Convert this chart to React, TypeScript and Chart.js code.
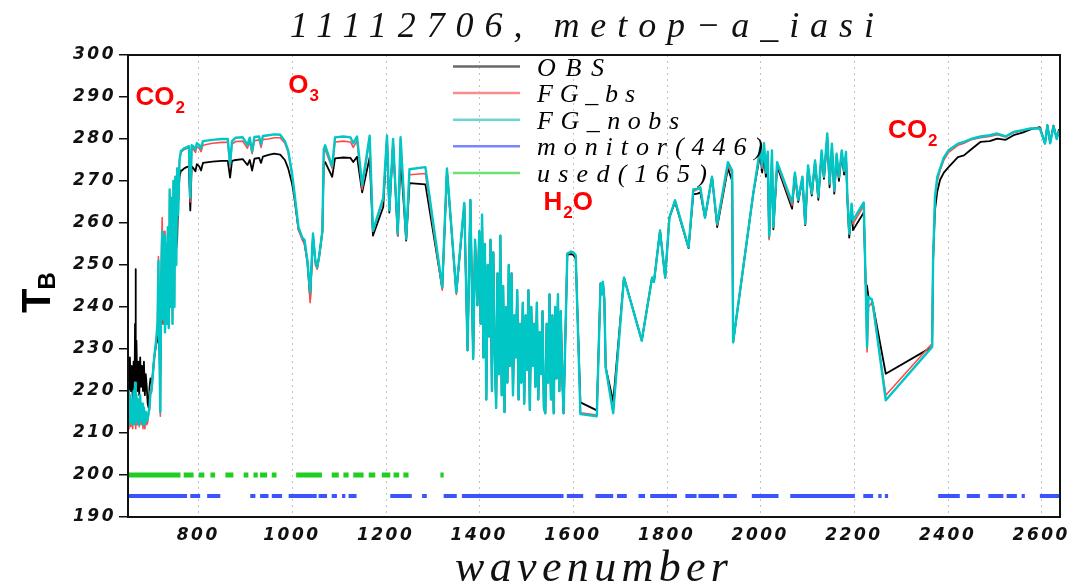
import React, { useEffect, useRef } from "react";
import { Chart, registerables } from "chart.js";

Chart.register(...registerables);

// ---------------- data ----------------
const wavenumber = [
  650, 652, 654, 656, 658, 660, 662, 664, 665, 666, 667, 668, 670, 672, 674, 676, 678, 680, 682, 684, 686, 688, 690, 692, 694, 696, 698, 700,
  702, 706, 710, 713, 715, 717, 719, 721, 723, 725, 727, 729, 731, 733, 735, 737, 739, 741, 743, 745, 747, 749, 751, 753, 755, 757, 760, 763,
  765, 770, 775, 780, 783, 786, 790, 794, 797, 802, 806, 810, 830, 850, 863, 868, 872, 880, 895, 905, 910, 915, 920, 930,
  934, 938, 950, 962, 975, 985, 992, 1000, 1004, 1014, 1022, 1027, 1033, 1039, 1045, 1050, 1054, 1058, 1065, 1068, 1071,
  1086, 1092, 1110, 1125, 1131, 1139, 1150, 1166, 1173, 1195, 1203, 1208, 1216, 1221, 1226, 1232,
  1244, 1251, 1285, 1321, 1331, 1351, 1368, 1375, 1381, 1387, 1391, 1396,
  1400, 1403, 1406, 1409, 1412, 1415, 1418, 1421, 1424, 1427, 1430, 1433, 1436, 1439, 1442, 1445, 1448, 1451, 1454, 1457,
  1460, 1463, 1466, 1469, 1472, 1475, 1478, 1481, 1484, 1487, 1490, 1493, 1496, 1499, 1502, 1505, 1508, 1511, 1514, 1517,
  1520, 1523, 1526, 1529, 1532, 1535, 1538, 1541, 1544, 1547, 1550, 1553, 1556, 1559, 1562, 1565, 1568, 1571, 1574, 1577, 1580,
  1588, 1596, 1601, 1606, 1616, 1651, 1659, 1662, 1664, 1667, 1670, 1686, 1709, 1747, 1769, 1773,
  1786, 1797, 1806, 1818, 1847, 1857, 1866, 1872, 1882, 1897, 1908, 1931, 1940, 1942, 1985, 2000,
  2004, 2008, 2012, 2016, 2019, 2025, 2028, 2036, 2068, 2074, 2081, 2090, 2096, 2102, 2110, 2117,
  2124, 2131, 2136, 2143, 2148, 2153, 2158, 2163, 2168, 2174, 2179, 2183, 2186, 2190, 2195, 2198,
  2221, 2225, 2228, 2231, 2238, 2241,
  2268, 2367, 2369, 2373, 2378, 2384, 2392, 2402, 2422, 2435, 2450, 2470, 2490, 2506, 2524, 2541, 2560, 2577, 2597, 2608, 2613, 2619, 2626, 2633, 2638,
];

const obsTb = [
  225, 219, 228, 220, 226, 218, 227, 221, 236, 249, 222, 232, 220, 227, 219, 228, 221, 226, 220, 227, 219, 224, 221, 217, 216, 221, 223, 222,
  223, 228, 231, 233, 232, 230, 224, 238, 241, 236, 240, 236, 242, 238, 240, 244, 247, 246, 249, 248, 251, 250, 253, 254, 256, 265, 271, 272.5,
  272.5, 273, 273.3, 273.5, 263, 273.5, 273, 272.3, 274, 273.5, 272.5, 274.3, 274.6, 274.8, 274.8, 270.8, 274.8, 275, 275.2, 273.8, 275, 272.5, 275.3, 275.5,
  274.3, 275.8, 276.2, 276.5, 276.3, 275, 273, 269.5, 267, 258.5, 256.5, 255, 251, 242, 257, 251, 249.5, 252, 258, 274, 274.5,
  271, 275.4, 275.6, 275.5, 274.5, 275.8, 267.3, 275.6, 257, 263.8, 280, 262.5, 279, 268, 257, 275.8,
  255.8, 269.5, 269.2, 244.5, 272.5, 243.5, 264.3, 229.7, 265.5, 227.7, 256, 240.4,
  258, 236, 262, 228, 255, 218, 250, 233, 256, 220, 253, 230, 216, 248, 224, 257, 219, 245, 215, 240,
  222, 250, 226, 248, 219, 238, 228, 244, 218, 236, 222, 241, 217, 238, 225, 244, 215.5, 240, 226, 236,
  221, 241, 218, 234, 224, 239, 216, 214.7, 236, 222, 243, 218, 238, 214.7, 240, 223, 243, 220, 239, 224, 214.7,
  252.5, 252.6, 252.4, 251.5, 217.3, 215.4, 245.6, 243, 246, 242, 225.6, 217.5, 247, 232, 247, 246,
  258.2, 247, 261.3, 265, 254, 266.8, 267, 267.3, 261.3, 271, 259, 273, 270, 231.6, 267, 276.5,
  272, 276, 271, 273.5, 256.5, 275, 258.5, 273.5, 263.4, 271.5, 265, 270.5, 259.5, 273, 266.5, 274.5,
  265.5, 276.5, 270.5, 280.5, 268.5, 278, 267, 275.5, 270, 276.5, 271.5, 276, 265.5, 256.5, 263.5, 258.3,
  262.5, 245.6, 245, 242.4, 241.8, 240.3,
  224.1, 230.5, 251, 263, 267.5, 270.3, 272, 273.3, 275.7, 276.1, 277.5, 279.3, 279.5, 280.1, 279.8, 280.9, 281.5, 282.3, 282.8, 279, 283.3, 279.2, 283.2, 280.2, 282.3,
];

const fgBsTb = [
  219, 211, 218, 211.5, 217, 211, 219, 212, 221, 215, 211, 218, 212, 217, 211.5, 218, 212, 216, 211, 215, 211, 214, 212, 212.5, 214.5, 215.5, 219.5, 219.5,
  222, 227.5, 231.5, 235.5, 252, 230, 214, 250, 261.3, 236, 258, 234, 255, 236, 259, 235, 267, 240, 266, 236, 270, 240, 271, 250, 273, 262, 275, 276.7,
  277, 277.5, 277.7, 278, 265, 278, 277.5, 276.8, 278.2, 277.8, 277, 278.5, 279, 279.2, 279.2, 273.5, 278.8, 279.4, 279.5, 277.8, 279.4, 276.5, 279.6, 279.8,
  278, 279.9, 280, 280.3, 280.3, 279, 276.8, 271.5, 268, 258.3, 256, 255, 250.5, 241, 257, 250, 249, 251.5, 257.5, 276.5, 277.5,
  273, 279.3, 279.5, 279.3, 278, 279.6, 268, 280.2, 258, 265.5, 280.5, 263, 279.5, 268.5, 257, 280,
  256, 271.5, 271.8, 244, 272.5, 243, 264.5, 229.7, 265.5, 227.7, 256, 240.4,
  258, 236, 262, 228, 255, 218, 250, 233, 256, 220, 253, 230, 216, 248, 224, 257, 219, 245, 215, 240,
  222, 250, 226, 248, 219, 238, 228, 244, 218, 236, 222, 241, 217, 238, 225, 244, 215.5, 240, 226, 236,
  221, 241, 218, 234, 224, 239, 216, 214.7, 236, 222, 243, 218, 238, 214.7, 240, 223, 243, 220, 239, 224, 214.7,
  252.7, 253.2, 253, 252, 214.8, 214.3, 245.6, 243, 246, 242, 225.6, 215, 247, 232, 247, 246,
  258.2, 247, 261.3, 265.4, 254.2, 267.5, 268, 268.3, 261.3, 271, 259.5, 273.5, 272, 231.6, 267, 277.5,
  273, 278.5, 272, 276.5, 256, 277, 259, 274, 264.2, 272, 265.5, 271, 259.8, 273.5, 267, 274.9,
  266, 277, 271, 281, 269.2, 278.5, 267.5, 276.2, 270.8, 277, 272.2, 276.6, 266, 257.3, 264.3, 259.8,
  264.1, 245.6, 229.3, 240, 241, 239.5,
  219, 231.3, 251, 265.5, 270, 272.5, 275, 276.8, 278.5, 279, 279.8, 280.3, 280.6, 281, 280.5, 281.5, 282, 282.5, 282.6, 278.9, 283.2, 279, 283, 280, 282,
];

const fgNobsTb = [
  220, 212, 219, 212.5, 218, 212, 220, 213, 222, 216, 212, 219, 213, 218, 212, 219, 213, 217, 212, 216, 212, 215, 213, 213.5, 215, 216, 220, 220,
  222.5, 228, 232, 236, 251, 230, 215, 248, 258, 237, 257, 234, 255, 236, 259, 235, 268, 240, 266, 236, 270, 240, 271, 250, 273, 262, 275, 277.2,
  277.3, 277.8, 278, 278.3, 266, 278.5, 278.2, 277.5, 279, 278.6, 277.8, 279.5, 279.8, 280, 280, 274, 279.5, 280.3, 280.4, 278.6, 280.3, 277, 280.5, 280.6,
  278.8, 280.7, 280.9, 281.1, 281, 279.5, 277.3, 272, 268.5, 259, 256.5, 256, 251, 243.5, 257.5, 251, 249.5, 252, 258, 277.5, 278.5,
  273.5, 280.4, 280.6, 280.4, 279, 280.6, 269, 280.8, 258.2, 266, 280.8, 263, 280, 268.5, 257.5, 280.4,
  256.3, 272.8, 273.3, 244.7, 273, 243.5, 264.8, 229.7, 265.5, 227.7, 256, 240.4,
  258, 236, 262, 228, 255, 218, 250, 233, 256, 220, 253, 230, 216, 248, 224, 257, 219, 245, 215, 240,
  222, 250, 226, 248, 219, 238, 228, 244, 218, 236, 222, 241, 217, 238, 225, 244, 215.5, 240, 226, 236,
  221, 241, 218, 234, 224, 239, 216, 214.7, 236, 222, 243, 218, 238, 214.7, 240, 223, 243, 220, 239, 224, 214.7,
  252.7, 253.2, 253, 252.3, 214.5, 214, 245.6, 243, 246, 242, 225.6, 214.7, 247, 232, 247, 246,
  258.2, 247, 261.3, 265.4, 254.2, 268, 268.2, 268.5, 261.3, 271, 259.8, 274.5, 272.5, 231.6, 267, 278,
  273.5, 279, 272, 277, 256.8, 277.3, 259, 274.5, 264.9, 272, 265.5, 271, 259.8, 273.7, 267, 274.9,
  266.2, 277.3, 271, 281.3, 269.4, 278.9, 267.8, 276.5, 271, 277.3, 272.5, 276.9, 266.2, 257.5, 264.6, 260.6,
  264.9, 245.6, 230.5, 242.4, 241.8, 240.3,
  217.8, 230.5, 251, 266.2, 271, 273, 275.6, 277.3, 278.9, 279.3, 280, 280.6, 280.9, 281.3, 280.6, 281.7, 282.1, 282.5, 282.5, 278.9, 283.2, 279, 283, 280, 282,
];

// channel flags: wavenumber ranges [from, to]
const usedRanges = [
  [650, 762], [769, 790], [801, 813], [826, 836], [858, 875], [897, 907], [918, 927], [932, 947], [957, 967],
  [1009, 1064], [1085, 1100], [1110, 1121], [1131, 1153], [1164, 1178], [1192, 1210], [1217, 1229], [1238, 1249], [1317, 1324],
];
const monitorRanges = [
  [650, 776], [783, 804], [819, 847], [911, 922], [932, 950], [957, 979], [993, 1053], [1057, 1075], [1085, 1096],
  [1107, 1114], [1121, 1138], [1210, 1256], [1278, 1288], [1324, 1352], [1363, 1580], [1587, 1622], [1648, 1686],
  [1694, 1715], [1740, 1754], [1765, 1822], [1840, 1864], [1868, 1912], [1921, 1950], [1982, 2039], [2064, 2202],
  [2220, 2241], [2252, 2259], [2266, 2273], [2380, 2426], [2441, 2469], [2487, 2519], [2526, 2548], [2558, 2565], [2597, 2640],
];
const usedLevel = 200;
const monitorLevel = 195;

const xTickValues = [800, 1000, 1200, 1400, 1600, 1800, 2000, 2200, 2400, 2600];
const yTickValues = [190, 200, 210, 220, 230, 240, 250, 260, 270, 280, 290, 300];
const seriesNames = ["OBS", "FG_bs", "FG_nobs", "monitor(446)", "used(165)"];
const titleText = "11112706, metop\u2212a_iasi";
const xTitleText = "wavenumber";

const gasLabels = [
  { main: "CO", sub: "2", tail: "", wn: 666, tb: 288 },
  { main: "O", sub: "3", tail: "", wn: 992, tb: 290.9 },
  { main: "H", sub: "2", tail: "O", wn: 1537, tb: 263 },
  { main: "CO", sub: "2", tail: "", wn: 2273, tb: 280.2 },
];

// ---------------- helpers ----------------
const lineColors = ["#000000", "#ff4a4a", "#00c6c6", "#3a55ff", "#1fcf1f"];
const legendColors = ["#6a6a6a", "#ff8a8a", "#6cd6d6", "#7a86ff", "#70e070"];

function rangePoints(ranges: number[][], level: number) {
  const pts: any[] = [];
  for (const [a, b] of ranges) {
    pts.push({ x: a, y: level }, { x: b, y: level }, { x: b, y: null });
  }
  return pts;
}

function drawSpaced(ctx: any, text: string, x: number, y: number, font: string, targetWidth: number, color: string) {
  ctx.save();
  ctx.font = font;
  ctx.letterSpacing = "0px";
  const natural = ctx.measureText(text).width;
  const n = Array.from(text).length;
  const sp = n > 1 ? Math.max(0, (targetWidth - natural) / (n - 1)) : 0;
  ctx.letterSpacing = sp.toFixed(2) + "px";
  ctx.fillStyle = color;
  ctx.textAlign = "left";
  ctx.textBaseline = "alphabetic";
  ctx.fillText(text, x, y);
  ctx.restore();
}

const decorPlugin = {
  id: "decor",
  beforeDraw(chart: any) {
    const ctx = chart.ctx;
    ctx.save();
    ctx.fillStyle = "#ffffff";
    ctx.fillRect(0, 0, chart.width, chart.height);
    ctx.restore();
    ctx.letterSpacing = "2.5px";
  },
  beforeDatasetsDraw(chart: any) {
    const { ctx, chartArea: a, scales } = chart;
    ctx.letterSpacing = "0px";
    ctx.save();
    ctx.strokeStyle = "#c2c2c2";
    ctx.lineWidth = 1;
    ctx.setLineDash([2, 4]);
    for (const v of xTickValues) {
      const px = Math.round(scales.x.getPixelForValue(v)) + 0.5;
      ctx.beginPath();
      ctx.moveTo(px, a.top);
      ctx.lineTo(px, a.bottom);
      ctx.stroke();
    }
    ctx.restore();
  },
  afterDatasetsDraw(chart: any) {
    const { ctx, chartArea: a, scales } = chart;
    ctx.save();
    ctx.letterSpacing = "0px";
    // frame
    ctx.strokeStyle = "#111";
    ctx.lineWidth = 2;
    ctx.strokeRect(a.left, a.top, a.right - a.left, a.bottom - a.top);

    // legend
    const rowTop = a.top + 11.5;
    const rowGap = 26.6;
    const widths = [67, 98, 142, 226, 170];
    seriesNames.forEach((name, i) => {
      const y = rowTop + i * rowGap;
      ctx.strokeStyle = legendColors[i];
      ctx.lineWidth = 2.5;
      ctx.beginPath();
      ctx.moveTo(a.left + 325, y);
      ctx.lineTo(a.left + 392, y);
      ctx.stroke();
      drawSpaced(ctx, name, a.left + 409, y + 9, 'italic 26px "Liberation Serif"', widths[i], "#000");
    });

    // gas annotations
    for (const g of gasLabels) {
      const px = scales.x.getPixelForValue(g.wn);
      const py = scales.y.getPixelForValue(g.tb);
      ctx.fillStyle = "#ff0000";
      ctx.textBaseline = "alphabetic";
      ctx.textAlign = "left";
      ctx.font = 'bold 26px "Liberation Sans"';
      ctx.fillText(g.main, px, py);
      const w1 = ctx.measureText(g.main).width;
      ctx.font = 'bold 17px "Liberation Sans"';
      ctx.fillText(g.sub, px + w1 + 1, py + 8);
      const w2 = ctx.measureText(g.sub).width;
      if (g.tail) {
        ctx.font = 'bold 26px "Liberation Sans"';
        ctx.fillText(g.tail, px + w1 + w2 + 1, py);
      }
    }
    ctx.restore();

    // title and x axis title
    drawSpaced(ctx, titleText, 290, 37, 'italic 36px "Liberation Serif"', 584, "#111");
    drawSpaced(ctx, xTitleText, 455, 581, 'italic 44px "Liberation Serif"', 273, "#111");

    // y axis title T_B (rotated)
    ctx.save();
    ctx.fillStyle = "#000";
    ctx.translate(50, 313);
    ctx.rotate(-Math.PI / 2);
    ctx.font = 'bold 40px "Liberation Sans"';
    ctx.textBaseline = "alphabetic";
    ctx.fillText("T", 0, 0);
    const wt = ctx.measureText("T").width;
    ctx.font = 'bold 24px "Liberation Sans"';
    ctx.fillText("B", wt - 1, 5);
    ctx.restore();
  },
};

export default function App() {
  const canvasRef = useRef<HTMLCanvasElement | null>(null);

  useEffect(() => {
    document.body.style.margin = "0";
    const canvas = canvasRef.current;
    if (!canvas) return;
    const n = Math.min(wavenumber.length, obsTb.length, fgBsTb.length, fgNobsTb.length);
    const mk = (vals: number[]) => wavenumber.slice(0, n).map((x, i) => ({ x, y: vals[i] }));

    const tickFont = { family: '"DejaVu Sans"', style: "italic" as const, weight: "bold" as const, size: 17 };
    const plain = (v: any) => String(v);

    const chart = new Chart(canvas, {
      type: "line",
      data: {
        datasets: [
          { label: seriesNames[0], data: mk(obsTb), borderColor: lineColors[0], borderWidth: 1.8, order: 3 },
          { label: seriesNames[1], data: mk(fgBsTb), borderColor: lineColors[1], borderWidth: 1.6, order: 2 },
          { label: seriesNames[2], data: mk(fgNobsTb), borderColor: lineColors[2], borderWidth: 2.4, order: 1 },
          { label: seriesNames[3], data: rangePoints(monitorRanges, monitorLevel), borderColor: lineColors[3], borderWidth: 4, order: 4, borderCapStyle: "butt" },
          { label: seriesNames[4], data: rangePoints(usedRanges, usedLevel), borderColor: lineColors[4], borderWidth: 5, order: 5, borderCapStyle: "butt" },
        ] as any,
      },
      options: {
        responsive: false,
        animation: false,
        devicePixelRatio: 1,
        spanGaps: false,
        elements: { point: { radius: 0 }, line: { tension: 0, borderJoinStyle: "round" } },
        layout: { padding: { left: 0, right: 19, top: 55, bottom: 0 } },
        plugins: { legend: { display: false }, tooltip: { enabled: false }, title: { display: false } },
        scales: {
          x: {
            type: "linear",
            min: 650,
            max: 2640,
            afterBuildTicks: (s: any) => { s.ticks = xTickValues.map((v) => ({ value: v })); },
            afterFit: (s: any) => { s.height = 69; },
            grid: { display: false, drawTicks: false },
            border: { display: false },
            ticks: { font: tickFont, color: "#111", padding: 8, maxRotation: 0, autoSkip: false, callback: plain },
          },
          y: {
            type: "linear",
            min: 190,
            max: 300,
            afterBuildTicks: (s: any) => { s.ticks = yTickValues.map((v) => ({ value: v })); },
            afterFit: (s: any) => { s.width = 128; },
            grid: { display: true, drawOnChartArea: false, drawTicks: true, tickLength: 9, color: "#111", lineWidth: 1.5 },
            border: { display: false },
            ticks: { font: tickFont, color: "#111", padding: 3, autoSkip: false, callback: plain },
          },
        },
      } as any,
      plugins: [decorPlugin],
    });
    return () => chart.destroy();
  }, []);

  return (
    <div style={{ position: "fixed", left: 0, top: 0, width: 1079, height: 586, background: "#fff" }}>
      <canvas ref={canvasRef} width={1079} height={586} style={{ display: "block", width: 1079, height: 586 }} />
    </div>
  );
}
